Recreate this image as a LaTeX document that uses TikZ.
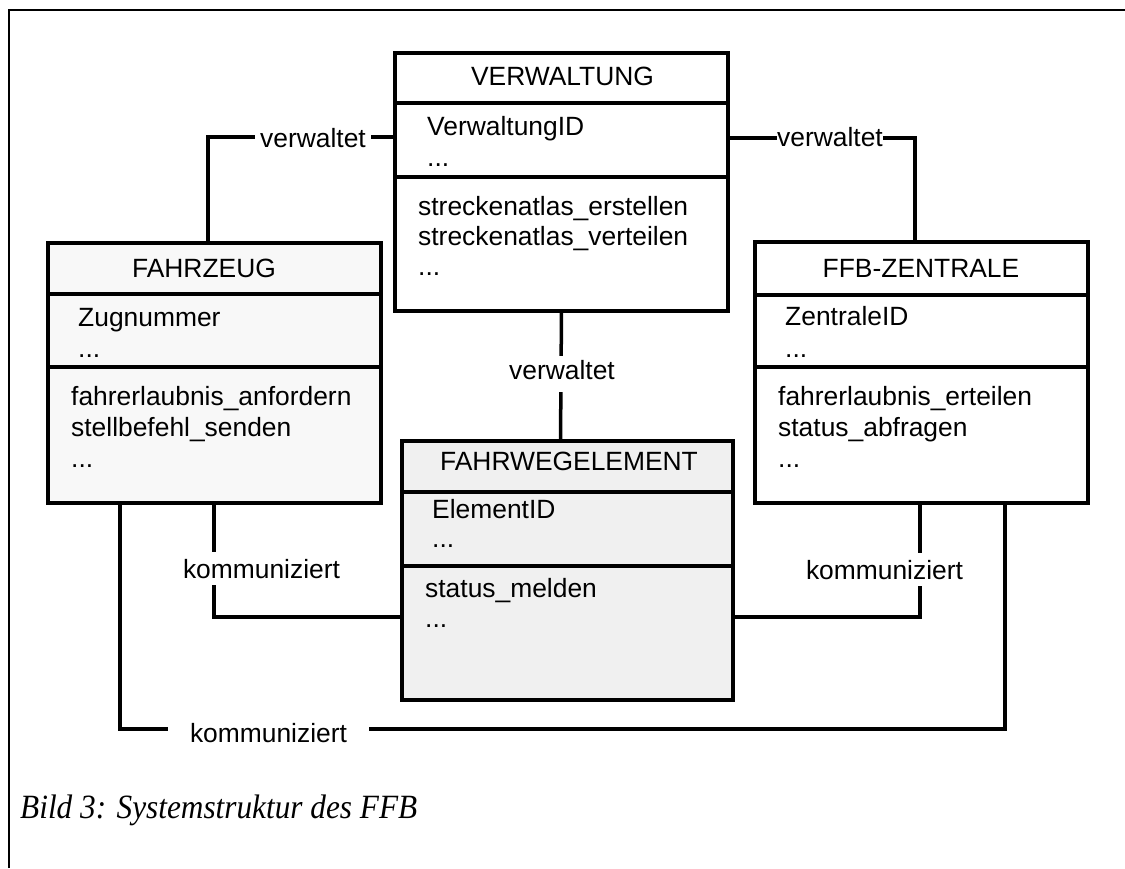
\documentclass[tikz,border=0pt]{standalone}
\usepackage{fontspec}
\usepackage{graphicx}
\setmainfont{Liberation Sans}
\newfontfamily\capfont{Liberation Serif}
\usetikzlibrary{calc}

\begin{document}
\begin{tikzpicture}[x=1pt,y=-1pt,
  classbox/.style={draw,line width=4pt,inner sep=0pt,outer sep=0pt,anchor=north west},
  divider/.style={line width=3.5pt},
  link/.style={line width=3.5pt},
  txt/.style={inner sep=0pt,anchor=base west,font=\fontsize{26.4}{30}\selectfont},
  head/.style={txt,anchor=base},
  lbl/.style={txt,anchor=base,fill=white},
]
\useasboundingbox (0,0) rectangle (1125,868);

% frame
\draw[line width=2pt] (9,868) -- (9,10) -- (1125,10);

% class boxes
\node[classbox,minimum width=333,minimum height=258] (vw) at (395,53) {};
\node[classbox,fill={rgb,255:red,248;green,248;blue,248},minimum width=333,minimum height=260] (fz) at (48,243) {};
\node[classbox,minimum width=333,minimum height=261] (ffb) at (755,242) {};
\node[classbox,fill={rgb,255:red,240;green,240;blue,240},minimum width=331,minimum height=259] (fe) at (402,441) {};

% compartment dividers
\draw[divider] ($(vw.north west)+(0,50)$) -- ($(vw.north east)+(0,50)$);
\draw[divider] ($(vw.north west)+(0,124)$) -- ($(vw.north east)+(0,124)$);
\draw[divider] ($(fz.north west)+(0,51)$) -- ($(fz.north east)+(0,51)$);
\draw[divider] ($(fz.north west)+(0,124)$) -- ($(fz.north east)+(0,124)$);
\draw[divider] ($(ffb.north west)+(0,53)$) -- ($(ffb.north east)+(0,53)$);
\draw[divider] ($(ffb.north west)+(0,125)$) -- ($(ffb.north east)+(0,125)$);
\draw[divider] ($(fe.north west)+(0,51)$) -- ($(fe.north east)+(0,51)$);
\draw[divider] ($(fe.north west)+(0,125)$) -- ($(fe.north east)+(0,125)$);

% VERWALTUNG
\node[head] (vw-h) at (562.5,85) {VERWALTUNG};
\node[txt] (vw-a1) at (427,135) {VerwaltungID};
\node[txt] (vw-a2) at (427,166) {...};
\node[txt] (vw-o1) at (418,215) {streckenatlas\_erstellen};
\node[txt] (vw-o2) at (418,245) {streckenatlas\_verteilen};
\node[txt] (vw-o3) at (418,275) {...};

% FAHRZEUG
\node[head] (fz-h) at (204,277) {FAHRZEUG};
\node[txt] (fz-a1) at (78,326) {Zugnummer};
\node[txt] (fz-a2) at (78,357) {...};
\node[txt] (fz-o1) at (71,405) {fahrerlaubnis\_anfordern};
\node[txt] (fz-o2) at (71,436) {stellbefehl\_senden};
\node[txt] (fz-o3) at (71,467) {...};

% FFB-ZENTRALE
\node[head] (ffb-h) at (921,277) {FFB-ZENTRALE};
\node[txt] (ffb-a1) at (785,325) {ZentraleID};
\node[txt] (ffb-a2) at (785,357) {...};
\node[txt] (ffb-o1) at (778,405) {fahrerlaubnis\_erteilen};
\node[txt] (ffb-o2) at (778,436) {status\_abfragen};
\node[txt] (ffb-o3) at (778,467) {...};

% FAHRWEGELEMENT
\node[head] (fe-h) at (569,470) {FAHRWEGELEMENT};
\node[txt] (fe-a1) at (432,518) {ElementID};
\node[txt] (fe-a2) at (432,547) {...};
\node[txt] (fe-o1) at (425,597) {status\_melden};
\node[txt] (fe-o2) at (425,627) {...};

% associations
\coordinate (lv) at (208,137);
\coordinate (rv) at (915,138);
\coordinate (lk) at (214,617);
\coordinate (rk) at (920,617);
\coordinate (ob1) at (120,729);
\coordinate (ob2) at (1005,729);

\draw[link] (fz.north -| lv) -- (lv) -- (vw.west |- lv);
\draw[link] (vw.east |- rv) -- (rv) -- (ffb.north -| rv);
\draw[link] (vw.south) -- ($(fe.north)+(-7,0)$);
\draw[link] (fz.south -| lk) -- (lk) -- (fe.west |- lk);
\draw[link] (ffb.south -| rk) -- (rk) -- (fe.east |- rk);
\draw[link] (fz.south -| ob1) -- (ob1) -- (ob2) -- (ffb.south -| ob2);

% association labels
\node[lbl,inner xsep=5pt] (lvl) at (313,147) {verwaltet};
\node[lbl] (rvl) at (830,146) {verwaltet};
\node[lbl,text height=19pt,text depth=9pt,inner ysep=4pt] (mvl) at (562,379) {verwaltet};
\node[lbl,text height=22pt,text depth=3pt,inner ysep=4pt] (lkl) at (261.5,578) {kommuniziert};
\node[lbl,text height=22pt,text depth=3pt,inner ysep=4pt] (rkl) at (884.5,579) {kommuniziert};
\node[lbl,inner xsep=22pt] (okl) at (268.5,742) {kommuniziert};

% caption
\node[anchor=base west,inner sep=0pt,font=\capfont\itshape\fontsize{34}{40}\selectfont] (cap) at (20,818) {\scalebox{0.92}[1]{Bild 3: Systemstruktur des FFB}};
\end{tikzpicture}
\end{document}
